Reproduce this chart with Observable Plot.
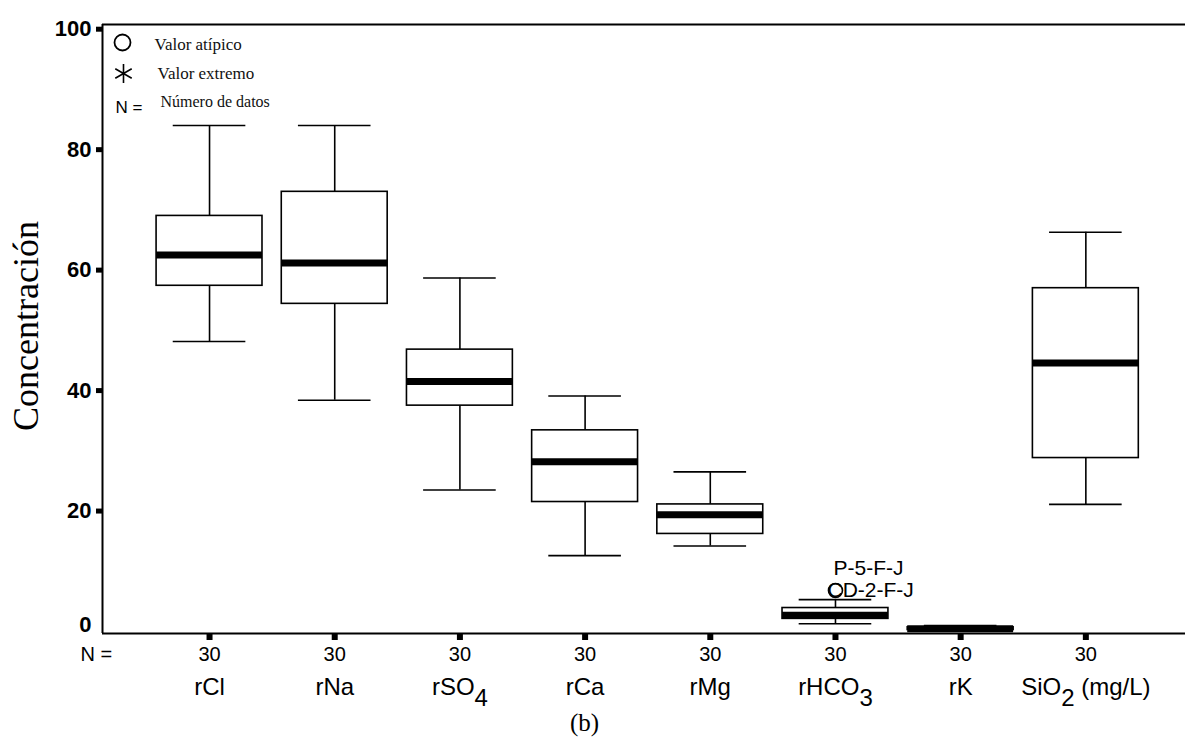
<!DOCTYPE html>
<html>
<head>
<meta charset="utf-8">
<script src="https://cdn.jsdelivr.net/npm/d3@7"></script>
<script src="https://cdn.jsdelivr.net/npm/@observablehq/plot@0.6"></script>
<style>
  html, body { margin: 0; padding: 0; background: #fff; }
  #chart svg { display: block; }
</style>
</head>
<body>
<div id="chart"></div>
<script>
// ---- data ----
const categories  = ["rCl", "rNa", "rSO4", "rCa", "rMg", "rHCO3", "rK", "SiO2"];
const labelBase   = ["rCl", "rNa", "rSO", "rCa", "rMg", "rHCO", "rK", "SiO"];
const labelSub    = ["", "", "4", "", "", "3", "", "2"];
const labelTail   = ["", "", "", "", "", "", "", " (mg/L)"];
const nValues     = [30, 30, 30, 30, 30, 30, 30, 30];
const whiskerLow  = [48.15, 38.4, 23.5, 12.6, 14.2, 1.3, 0.15, 21.1];
const q1          = [57.4, 54.4, 37.5, 21.5, 16.2, 2.1, 0.25, 28.8];
const median      = [62.5, 61.2, 41.5, 28.2, 19.4, 2.7, 0.45, 44.6];
const q3          = [69.0, 73.0, 46.8, 33.4, 21.1, 3.9, 0.7, 57.0];
const whiskerHigh = [84.0, 84.0, 58.7, 39.1, 26.5, 5.3, 1.0, 66.3];
const outlierCat   = [5, 5];
const outlierValue = [6.8, 6.8];
const outlierLabel = ["CD-2-F-J", "P-5-F-J"];
const yTicks = [0, 20, 40, 60, 80, 100];
const legendLabels = ["Valor atípico", "Valor extremo", "Número de datos"];
const nLabel = "N =";
const yTitle = "Concentración";
const caption = "(b)";

// ---- build ----
const idx = categories.map((_, i) => i);
const boxes = idx.map(i => ({i, lo: whiskerLow[i], q1: q1[i], med: median[i], q3: q3[i], hi: whiskerHigh[i]}));
const outliers = outlierCat.map((c, k) => ({i: c, value: outlierValue[k], label: outlierLabel[k]}));
const hw = 0.423, cw = 0.29;
const xDomain = [-0.855, 7.796];
const yDomain = [-0.33, 100.78];
const sans = "Liberation Sans, Arial, sans-serif";
const serif = "Liberation Serif, Times New Roman, serif";
const lw = 1.6;
const mid = {lineAnchor: "middle"};

const plot = Plot.plot({
  width: 1185,
  height: 749,
  marginLeft: 102,
  marginRight: 0,
  marginTop: 24,
  marginBottom: 116,
  x: {type: "linear", domain: xDomain},
  y: {domain: yDomain},
  style: {background: "#fff", color: "#000", fontFamily: sans, fontSize: "20px"},
  marks: [
    // whiskers
    Plot.ruleX(boxes, {x: "i", y1: "q3", y2: "hi", stroke: "#000", strokeWidth: lw}),
    Plot.ruleX(boxes, {x: "i", y1: "lo", y2: "q1", stroke: "#000", strokeWidth: lw}),
    Plot.ruleY(boxes, {y: "hi", x1: d => d.i - cw, x2: d => d.i + cw, stroke: "#000", strokeWidth: lw}),
    Plot.ruleY(boxes, {y: "lo", x1: d => d.i - cw, x2: d => d.i + cw, stroke: "#000", strokeWidth: lw}),
    // boxes
    Plot.rect(boxes, {x1: d => d.i - hw, x2: d => d.i + hw, y1: "q1", y2: "q3", fill: "#fff", stroke: "#000", strokeWidth: lw}),
    // medians
    Plot.ruleY(boxes, {y: "med", x1: d => d.i - hw, x2: d => d.i + hw, stroke: "#000", strokeWidth: 7}),
    // outliers
    Plot.dot(outliers.slice(0, 1), {x: "i", y: "value", r: 7, stroke: "#000", strokeWidth: lw, fill: "none"}),
    Plot.text(outliers.slice(0, 1), {x: "i", y: "value", text: "label", textAnchor: "start", dx: -8, fontSize: 21, fontFamily: sans, ...mid}),
    Plot.text(outliers.slice(1, 2), {x: "i", y: "value", text: "label", textAnchor: "start", dx: -2, dy: -22, fontSize: 21, fontFamily: sans, ...mid}),
    // frame lines (left, bottom, top)
    Plot.ruleX([xDomain[0]], {stroke: "#000", strokeWidth: 2}),
    Plot.ruleY([yDomain[0]], {stroke: "#000", strokeWidth: 2}),
    Plot.ruleY([yDomain[1]], {stroke: "#000", strokeWidth: 2}),
    // y axis: tick squares + labels
    Plot.axisY({ticks: yTicks.slice(1), tickSize: 6, strokeWidth: 5, tickFormat: () => "", label: null}),
    Plot.axisY({ticks: yTicks.slice(1), tickSize: 0, tickPadding: 11, fontSize: 22, fontWeight: "bold", label: null}),
    Plot.text(yTicks.slice(0, 1), {y: d => d, frameAnchor: "left", dx: -11, dy: -7, textAnchor: "end", fontSize: 22, fontWeight: "bold", ...mid}),
    // x axis: tick squares
    Plot.axisX({ticks: idx, tickSize: 7, strokeWidth: 6, tickFormat: () => "", label: null}),
    // N row
    Plot.text(idx, {x: d => d, text: d => String(nValues[d]), frameAnchor: "bottom", dy: 21, fontSize: 20, ...mid}),
    Plot.text([nLabel], {frameAnchor: "bottom-left", dx: -22, dy: 21, textAnchor: "start", fontSize: 20, ...mid}),
    // category labels
    Plot.text(idx, {x: d => d, text: d => labelBase[d] + labelSub[d] + labelTail[d], frameAnchor: "bottom", dy: 54, fontSize: 24, ...mid}),
    // y title
    Plot.text([yTitle], {frameAnchor: "left", dx: -76, dy: -3, rotate: -90, textAnchor: "middle", fontSize: 36, fontFamily: serif, ...mid}),
    // caption
    Plot.text([caption], {frameAnchor: "bottom-left", dx: 482, dy: 89, textAnchor: "middle", fontSize: 25, fontFamily: serif, ...mid}),
    // legend
    Plot.dot([0], {frameAnchor: "top-left", dx: 20, dy: 18, r: 8, stroke: "#000", strokeWidth: 1.8, fill: "none"}),
    Plot.dot([0], {frameAnchor: "top-left", dx: 21, dy: 49, r: 9, symbol: "asterisk", stroke: "#000", strokeWidth: 1.6}),
    Plot.text([legendLabels[0]], {frameAnchor: "top-left", dx: 52, dy: 20, textAnchor: "start", fontSize: 17, fontFamily: serif, fill: "#111", ...mid}),
    Plot.text([legendLabels[1]], {frameAnchor: "top-left", dx: 55, dy: 49, textAnchor: "start", fontSize: 17, fontFamily: serif, fill: "#111", ...mid}),
    Plot.text([nLabel], {frameAnchor: "top-left", dx: 13, dy: 83, textAnchor: "start", fontSize: 17, fontFamily: sans, ...mid}),
    Plot.text([legendLabels[2]], {frameAnchor: "top-left", dx: 58, dy: 77, textAnchor: "start", fontSize: 16, fontFamily: serif, fill: "#111", ...mid})
  ]
});

// subscripts in category labels
d3.select(plot).selectAll("text").each(function() {
  const t = this.textContent;
  const i = idx.findIndex(k => labelSub[k] && t === labelBase[k] + labelSub[k] + labelTail[k]);
  if (i < 0) return;
  const el = d3.select(this);
  el.text(null);
  el.append("tspan").text(labelBase[i]);
  el.append("tspan").attr("dy", "0.45em").text(labelSub[i]);
  if (labelTail[i]) el.append("tspan").attr("dy", "-0.45em").text(labelTail[i]);
});

document.getElementById("chart").appendChild(plot);
</script>
</body>
</html>
